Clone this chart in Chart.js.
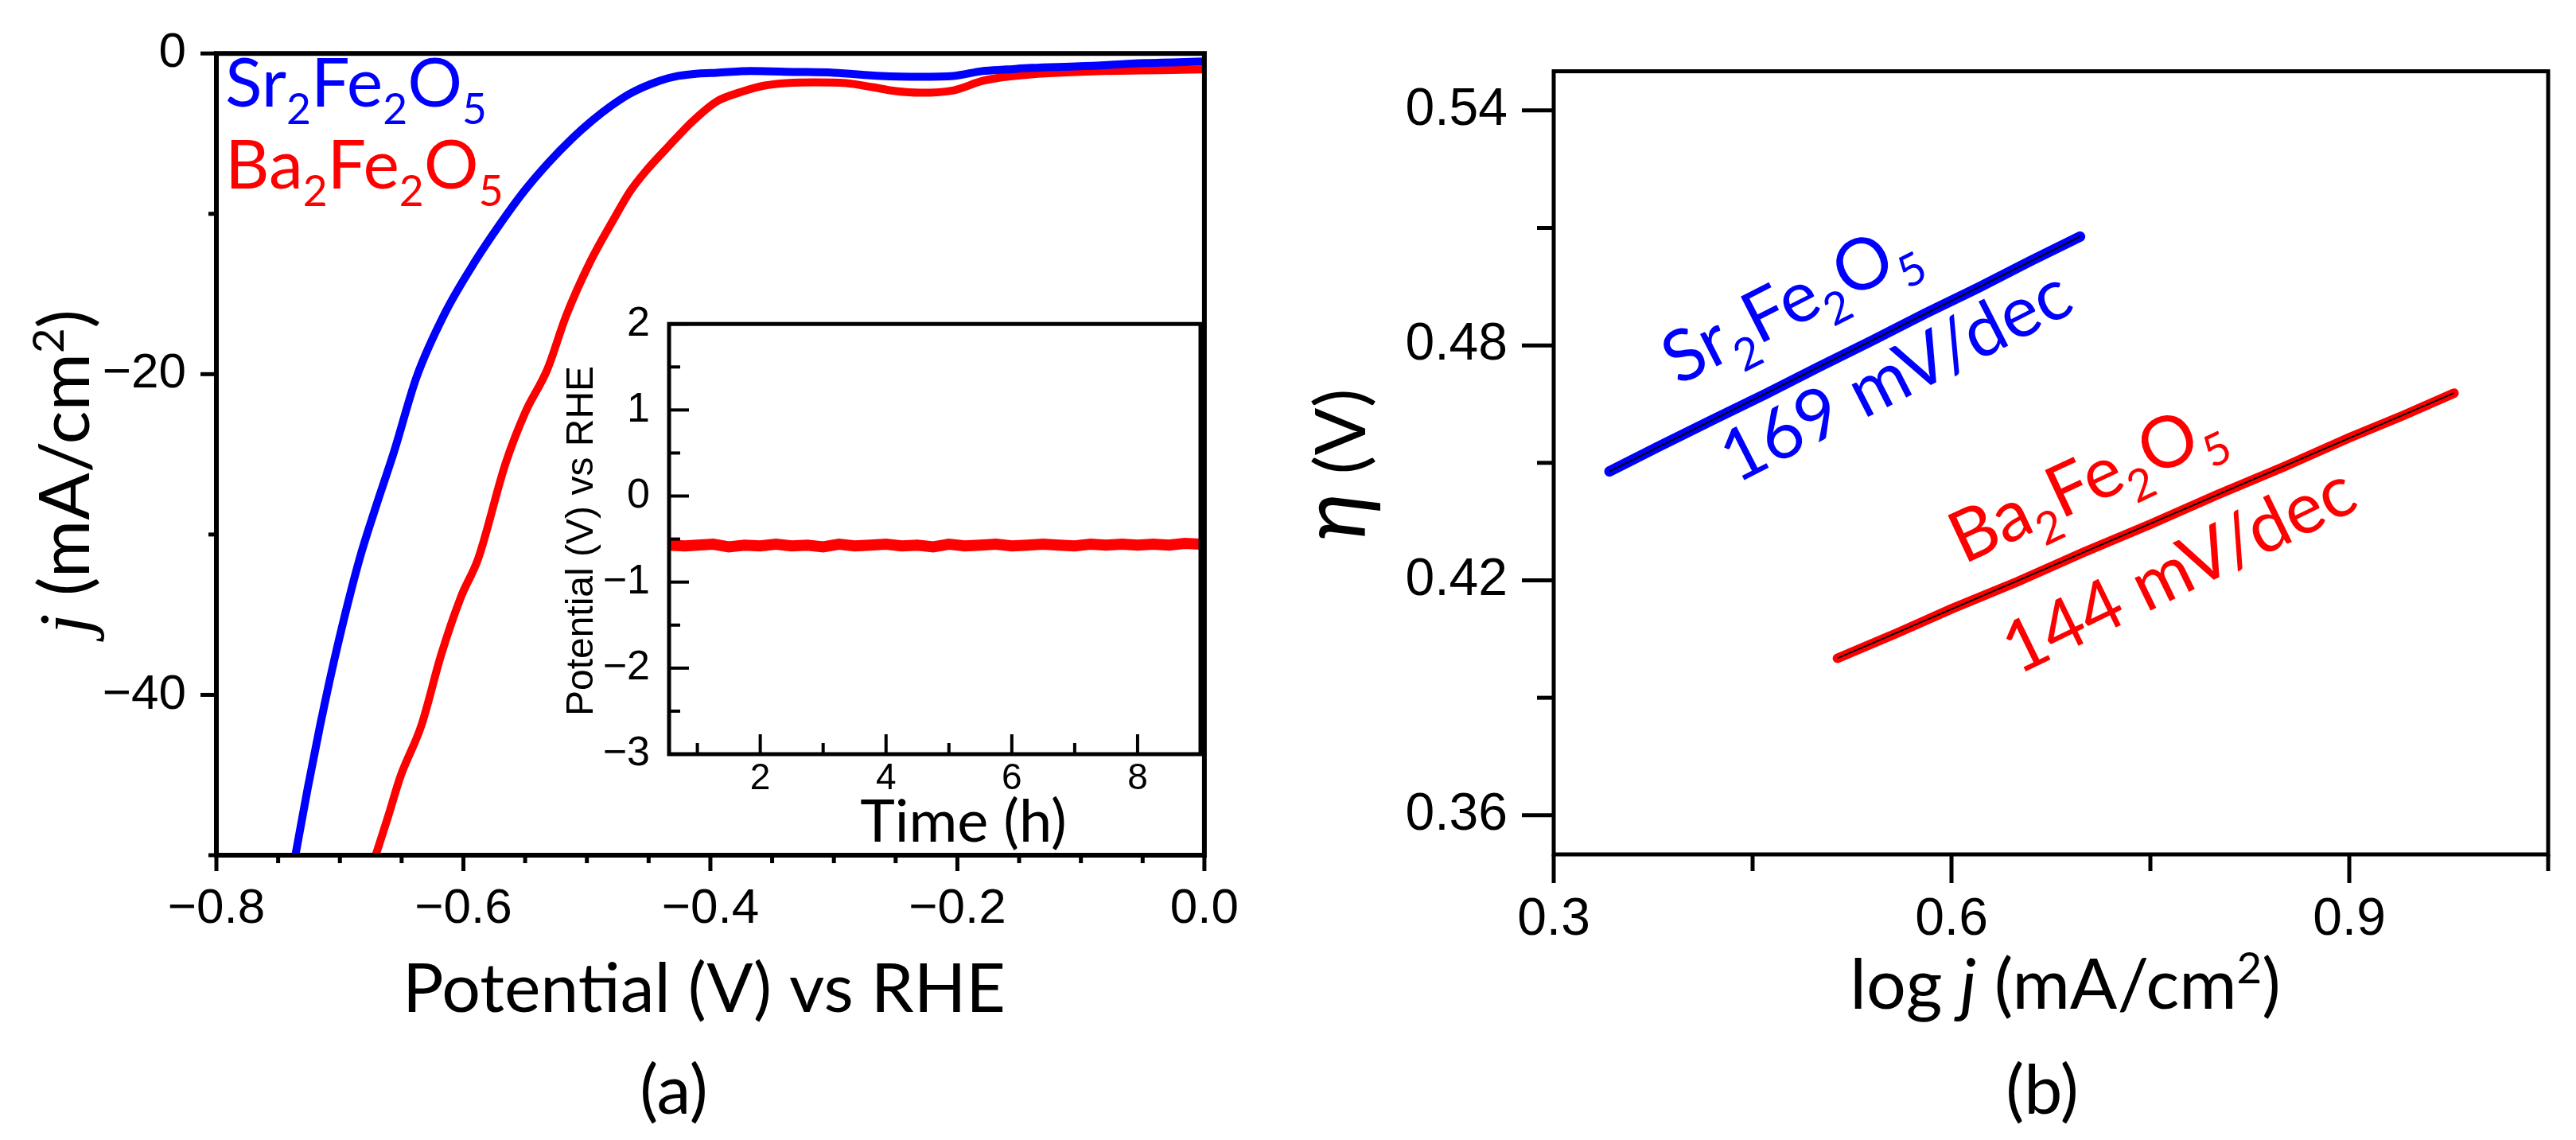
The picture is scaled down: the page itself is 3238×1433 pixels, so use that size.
<!DOCTYPE html>
<html>
<head>
<meta charset="utf-8">
<script src="https://cdn.jsdelivr.net/npm/chart.js@4.4.1/dist/chart.umd.min.js"></script>
<style>
html, body { margin: 0; padding: 0; background: #fff; }
#wrap { position: relative; width: 3238px; height: 1433px; overflow: hidden; background: #fff; }
canvas { position: absolute; }
</style>
</head>
<body>
<div id="wrap">
  <canvas id="chartA" width="1580" height="1433" style="left:0;top:0"></canvas>
  <canvas id="chartB" width="1638" height="1433" style="left:1600px;top:0"></canvas>
  <canvas id="chartInset" width="860" height="720" style="left:680px;top:360px"></canvas>
</div>
<script>
// Panel (a): LSV curves, potential (V vs RHE) vs current density (mA/cm2)
const sfoPotential = [-0.736, -0.726, -0.716, -0.703, -0.684, -0.671, -0.656, -0.638, -0.615, -0.590, -0.570, -0.551, -0.531, -0.512, -0.496, -0.481, -0.465, -0.441, -0.426, -0.410, -0.395, -0.367, -0.332, -0.300, -0.262, -0.230, -0.203, -0.180, -0.160, -0.140, -0.101, -0.048, 0.000];
const sfoCurrent = [-50.0, -45.8, -41.9, -37.3, -31.5, -28.3, -24.8, -20.2, -16.2, -12.9, -10.6, -8.6, -6.8, -5.3, -4.2, -3.3, -2.5, -1.7, -1.4, -1.25, -1.2, -1.1, -1.15, -1.2, -1.4, -1.45, -1.4, -1.1, -1.0, -0.9, -0.8, -0.6, -0.5];
const bfoPotential = [-0.671, -0.661, -0.651, -0.634, -0.618, -0.602, -0.588, -0.566, -0.550, -0.532, -0.517, -0.498, -0.478, -0.465, -0.453, -0.434, -0.414, -0.395, -0.375, -0.356, -0.316, -0.290, -0.269, -0.250, -0.230, -0.203, -0.179, -0.160, -0.140, -0.081, 0.000];
const bfoCurrent = [-50.0, -47.6, -45.1, -41.9, -37.5, -33.9, -31.5, -25.6, -22.4, -19.7, -16.4, -13.1, -10.3, -8.6, -7.4, -5.8, -4.2, -3.0, -2.4, -2.0, -1.8, -1.85, -2.1, -2.35, -2.45, -2.3, -1.7, -1.45, -1.3, -1.1, -1.0];

// Inset: stability test, potential vs time
const insetTime = [0.55, 0.8, 1.0, 1.25, 1.5, 1.75, 2.0, 2.25, 2.5, 2.75, 3.0, 3.25, 3.5, 3.75, 4.0, 4.25, 4.5, 4.75, 5.0, 5.25, 5.5, 5.75, 6.0, 6.25, 6.5, 6.75, 7.0, 7.25, 7.5, 7.75, 8.0, 8.25, 8.5, 8.75, 9.0];
const insetPotential = [-0.57, -0.58, -0.57, -0.56, -0.59, -0.57, -0.58, -0.56, -0.58, -0.57, -0.59, -0.56, -0.58, -0.57, -0.56, -0.58, -0.57, -0.59, -0.56, -0.58, -0.57, -0.56, -0.58, -0.57, -0.56, -0.57, -0.58, -0.56, -0.57, -0.56, -0.57, -0.56, -0.57, -0.55, -0.56];

// Panel (b): Tafel plots
const sfoLogJ = [0.342, 0.38, 0.42, 0.46, 0.50, 0.54, 0.58, 0.62, 0.66, 0.697];
const sfoEta = [0.4478, 0.4543, 0.4610, 0.4676, 0.4745, 0.4812, 0.4881, 0.4947, 0.5016, 0.5078];
const bfoLogJ = [0.514, 0.56, 0.60, 0.65, 0.70, 0.75, 0.80, 0.85, 0.90, 0.94, 0.979];
const bfoEta = [0.4001, 0.4067, 0.4127, 0.4197, 0.4272, 0.4343, 0.4418, 0.4489, 0.4564, 0.4620, 0.4678];
const sfoFitLogJ = [0.342, 0.697];
const sfoFitEta = [0.4478, 0.5078];
const bfoFitLogJ = [0.514, 0.979];
const bfoFitEta = [0.4001, 0.4678];

// Ticks
const aXMajor = [-0.8, -0.6, -0.4, -0.2, 0];
const aXLabels = ['\u22120.8', '\u22120.6', '\u22120.4', '\u22120.2', '0.0'];
const aXMinor = [-0.75, -0.7, -0.65, -0.55, -0.5, -0.45, -0.35, -0.3, -0.25, -0.15, -0.1, -0.05];
const aYMajor = [0, -20, -40];
const aYLabels = ['0', '\u221220', '\u221240'];
const aYMinor = [-10, -30, -50];
const inXMajor = [2, 4, 6, 8];
const inXLabels = ['2', '4', '6', '8'];
const inXMinor = [1, 3, 5, 7];
const inYMajor = [2, 1, 0, -1, -2, -3];
const inYLabels = ['2', '1', '0', '\u22121', '\u22122', '\u22123'];
const inYMinor = [1.5, 0.5, -0.5, -1.5, -2.5];
const bXMajor = [0.3, 0.6, 0.9];
const bXLabels = ['0.3', '0.6', '0.9'];
const bXMinor = [0.45, 0.75, 1.05];
const bYMajor = [0.36, 0.42, 0.48, 0.54];
const bYLabels = ['0.36', '0.42', '0.48', '0.54'];
const bYMinor = [0.39, 0.45, 0.51];

const BLUE = '#0000ff';
const RED = '#ff0000';
const SANS = '"Lato", "Noto Sans", sans-serif';
const ARIAL = '"Liberation Sans", Arial, sans-serif';

function points(xs, ys) {
    return xs.map((x, i) => ({ x: x, y: ys[i] }));
}

function tickAxis(min, max, majors, minors, labels, size, pad, extra) {
    return Object.assign({
        type: 'linear',
        min: min,
        max: max,
        grid: { display: false },
        border: { display: false },
        afterBuildTicks: s => {
            s.ticks = majors.concat(minors).sort((a, b) => a - b).map(v => ({ value: v }));
        },
        ticks: {
            autoSkip: false,
            maxRotation: 0,
            minRotation: 0,
            padding: pad,
            color: '#000',
            font: { family: ARIAL, size: size },
            callback: v => {
                const i = majors.findIndex(m => Math.abs(m - v) < 1e-9);
                return i < 0 ? '' : labels[i];
            }
        }
    }, extra);
}

function frame(ctx, area, w) {
    ctx.save();
    ctx.strokeStyle = '#000';
    ctx.lineWidth = w;
    ctx.strokeRect(area.left, area.top, area.right - area.left, area.bottom - area.top);
    ctx.restore();
}

// dir 1 = outward, -1 = inward
function tickMarks(ctx, scale, majors, len, minorLen, dir, w) {
    ctx.save();
    ctx.strokeStyle = '#000';
    ctx.lineWidth = w;
    scale.ticks.forEach(t => {
        const major = majors.some(m => Math.abs(m - t.value) < 1e-9);
        const l = major ? len : minorLen;
        const p = scale.getPixelForValue(t.value);
        ctx.beginPath();
        if (scale.isHorizontal()) {
            ctx.moveTo(p, scale.top);
            ctx.lineTo(p, scale.top + dir * l);
        } else {
            ctx.moveTo(scale.right, p);
            ctx.lineTo(scale.right - dir * l, p);
        }
        ctx.stroke();
    });
    ctx.restore();
}

// draw a row of text pieces (for sub/superscripts and italics)
function rich(ctx, parts, x, y, angle, align, color, vshift) {
    ctx.save();
    ctx.translate(x, y);
    ctx.rotate(angle || 0);
    ctx.translate(0, vshift || 0);
    ctx.fillStyle = color || '#000';
    ctx.textBaseline = 'alphabetic';
    ctx.textAlign = 'left';
    let w = 0;
    parts.forEach(p => { ctx.font = p.font; w += ctx.measureText(p.text).width; });
    let cx = align === 'left' ? 0 : -w / 2;
    parts.forEach(p => {
        ctx.font = p.font;
        ctx.fillText(p.text, cx, p.dy || 0);
        cx += ctx.measureText(p.text).width;
    });
    ctx.restore();
}

function chem(formula, size) {
    return formula.match(/[A-Za-z]+|\d+/g).map(s => /\d/.test(s)
        ? { text: s, font: `${size * 0.62}px ${SANS}`, dy: size * 0.25 }
        : { text: s, font: `${size}px ${SANS}` });
}

function units(size) {
    return [
        { text: ' (mA/cm', font: `${size}px ${SANS}` },
        { text: '2', font: `${size * 0.62}px ${SANS}`, dy: -size * 0.36 },
        { text: ')', font: `${size}px ${SANS}` }
    ];
}

const deg = Math.PI / 180;

// Panel (a)
const panelA = {
    id: 'panelA',
    afterDraw(chart) {
        const ctx = chart.ctx;
        frame(ctx, chart.chartArea, 6);
        tickMarks(ctx, chart.scales.x, aXMajor, 20, 10, 1, 5);
        tickMarks(ctx, chart.scales.y, aYMajor, 20, 10, 1, 5);
        rich(ctx, chem('Sr2Fe2O5', 86), 283, 134, 0, 'left', BLUE);
        rich(ctx, chem('Ba2Fe2O5', 86), 283, 237, 0, 'left', RED);
        rich(ctx, [{ text: 'j', font: `italic 92px "Liberation Serif", serif` }].concat(units(88)), 112, 593, -90 * deg, 'center');
        rich(ctx, [{ text: 'Potential (V) vs RHE', font: `86px ${SANS}` }], 885, 1272, 0, 'center');
        rich(ctx, [{ text: '(a)', font: `86px ${SANS}` }], 847, 1400, 0, 'center');
    }
};

new Chart(document.getElementById('chartA'), {
    type: 'line',
    data: {
        datasets: [{
            label: 'Sr2Fe2O5',
            data: points(sfoPotential, sfoCurrent),
            borderColor: BLUE,
            borderWidth: 10,
            cubicInterpolationMode: 'monotone',
            pointRadius: 0,
            order: 0
        }, {
            label: 'Ba2Fe2O5',
            data: points(bfoPotential, bfoCurrent),
            borderColor: RED,
            borderWidth: 10,
            cubicInterpolationMode: 'monotone',
            pointRadius: 0,
            order: 1
        }]
    },
    options: {
        responsive: false,
        animation: false,
        devicePixelRatio: 1,
        layout: { padding: { top: 59, right: 57, left: 0, bottom: 0 } },
        plugins: { legend: { display: false }, tooltip: { enabled: false } },
        scales: {
            x: tickAxis(-0.8, 0, aXMajor, aXMinor, aXLabels, 62, 23, { afterFit: s => { s.height = 358; } }),
            y: tickAxis(-50, 0, aYMajor, aYMinor, aYLabels, 62, 30, { afterFit: s => { s.width = 272; } })
        }
    },
    plugins: [panelA]
});

// Inset
const panelInset = {
    id: 'panelInset',
    afterDraw(chart) {
        const ctx = chart.ctx;
        frame(ctx, chart.chartArea, 5);
        tickMarks(ctx, chart.scales.x, inXMajor, 25, 14, -1, 4);
        tickMarks(ctx, chart.scales.y, inYMajor, 25, 14, -1, 4);
        ctx.save();
        ctx.translate(-680, -360);
        rich(ctx, [{ text: 'Potential (V) vs RHE', font: `48px ${ARIAL}` }], 745, 680, -90 * deg, 'center');
        rich(ctx, [{ text: 'Time (h)', font: `74px ${SANS}` }], 1211, 1058, 0, 'center');
        ctx.restore();
    }
};

new Chart(document.getElementById('chartInset'), {
    type: 'line',
    data: {
        datasets: [{
            label: 'Ba2Fe2O5',
            data: points(insetTime, insetPotential),
            borderColor: RED,
            borderWidth: 14,
            pointRadius: 0
        }]
    },
    options: {
        responsive: false,
        animation: false,
        devicePixelRatio: 1,
        layout: { padding: { top: 46, right: 31, left: 0, bottom: 0 } },
        plugins: { legend: { display: false }, tooltip: { enabled: false } },
        scales: {
            x: tickAxis(0.55, 9, inXMajor, inXMinor, inXLabels, 46, -4, { afterFit: s => { s.height = 132; } }),
            y: tickAxis(-3, 2, inYMajor, inYMinor, inYLabels, 52, 16, { afterFit: s => { s.width = 161; } })
        }
    },
    plugins: [panelInset]
});

// Panel (b)
const panelB = {
    id: 'panelB',
    afterDraw(chart) {
        const ctx = chart.ctx;
        frame(ctx, chart.chartArea, 5);
        tickMarks(ctx, chart.scales.x, bXMajor, 36, 21, 1, 5);
        tickMarks(ctx, chart.scales.y, bYMajor, 40, 21, 1, 5);
        ctx.save();
        ctx.translate(-1600, 0);
        rich(ctx, [{ text: '\u03b7', font: `italic 112px ${SANS}` }, { text: ' (V)', font: `88px ${SANS}` }], 1716, 584, -90 * deg, 'center');
        rich(ctx, [{ text: 'log ', font: `88px ${SANS}` }, { text: 'j', font: `italic 88px ${SANS}` }].concat(units(88)), 2596, 1268, 0, 'center');
        rich(ctx, [{ text: '(b)', font: `86px ${SANS}` }], 2567, 1400, 0, 'center');
        rich(ctx, chem('Sr2Fe2O5', 90), 2251, 384, -27 * deg, 'center', BLUE, 26);
        rich(ctx, [{ text: '169 mV/dec', font: `90px ${SANS}` }], 2382, 471, -27 * deg, 'center', BLUE, 32);
        rich(ctx, chem('Ba2Fe2O5', 90), 2623, 609, -25 * deg, 'center', RED, 26);
        rich(ctx, [{ text: '144 mV/dec', font: `90px ${SANS}` }], 2738, 715, -26 * deg, 'center', RED, 32);
        ctx.restore();
    }
};

new Chart(document.getElementById('chartB'), {
    type: 'line',
    data: {
        datasets: [{
            label: 'Sr2Fe2O5 fit',
            data: points(sfoFitLogJ, sfoFitEta),
            borderColor: '#000',
            borderWidth: 2,
            pointRadius: 0,
            order: 0
        }, {
            label: 'Ba2Fe2O5 fit',
            data: points(bfoFitLogJ, bfoFitEta),
            borderColor: '#000',
            borderWidth: 2,
            pointRadius: 0,
            order: 0
        }, {
            label: 'Sr2Fe2O5',
            data: points(sfoLogJ, sfoEta),
            borderColor: BLUE,
            borderWidth: 13,
            borderCapStyle: 'round',
            pointRadius: 0,
            order: 1
        }, {
            label: 'Ba2Fe2O5',
            data: points(bfoLogJ, bfoEta),
            borderColor: RED,
            borderWidth: 12,
            borderCapStyle: 'round',
            pointRadius: 0,
            order: 1
        }]
    },
    options: {
        responsive: false,
        animation: false,
        devicePixelRatio: 1,
        layout: { padding: { top: 57, right: 27, left: 0, bottom: 0 } },
        plugins: { legend: { display: false }, tooltip: { enabled: false } },
        scales: {
            x: tickAxis(0.3, 1.05, bXMajor, bXMinor, bXLabels, 66, 35, { afterFit: s => { s.height = 359; } }),
            y: tickAxis(0.35, 0.55, bYMajor, bYMinor, bYLabels, 66, 50, { afterFit: s => { s.width = 353; } })
        }
    },
    plugins: [panelB]
});
</script>
</body>
</html>
